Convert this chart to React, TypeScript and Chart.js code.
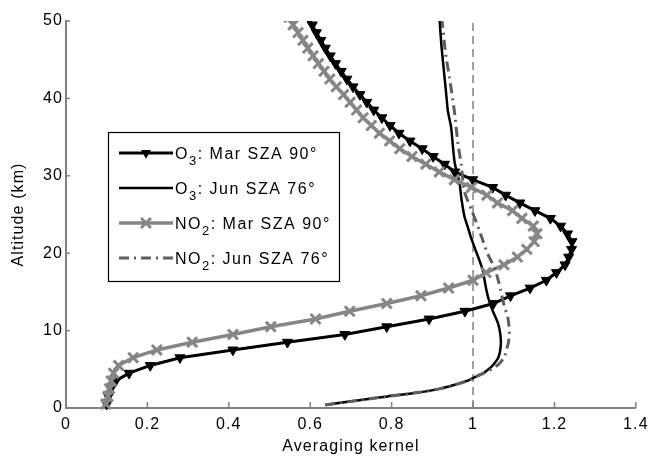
import React, { useEffect, useRef } from 'react';
import { Chart, registerables } from 'chart.js';

Chart.register(...registerables);

// ---- Data (altitude in km, averaging kernel value) ----
const o3MarAlt = [0.5, 1.5, 2.5, 3.5, 4.5, 5.5, 6.5, 7.5, 8.5, 9.5, 10.5, 11.5, 12.5, 13.5, 14.5, 15.5, 16.5, 17.5, 18.5, 19.5, 20.5, 21.5, 22.5, 23.5, 24.5, 25.5, 26.5, 27.5, 28.5, 29.5, 30.5, 31.5, 32.5, 33.5, 34.5, 35.5, 36.5, 37.5, 38.5, 39.5, 40.5, 41.5, 42.5, 43.5, 44.5, 45.5, 46.5, 47.5, 48.5, 49.5, 50.5];
const o3MarVal = [0.100, 0.104, 0.110, 0.122, 0.155, 0.207, 0.280, 0.410, 0.544, 0.685, 0.788, 0.892, 0.980, 1.050, 1.092, 1.140, 1.180, 1.205, 1.226, 1.235, 1.242, 1.243, 1.232, 1.215, 1.190, 1.152, 1.115, 1.080, 1.048, 0.999, 0.955, 0.930, 0.902, 0.875, 0.845, 0.818, 0.796, 0.776, 0.756, 0.739, 0.722, 0.705, 0.690, 0.676, 0.662, 0.649, 0.637, 0.626, 0.615, 0.605, 0.595];

const o3JunAlt = [0.4, 1.0, 1.5, 2.0, 2.5, 3.0, 3.5, 4.0, 4.5, 5.0, 5.5, 6.5, 8.0, 9.5, 11.0, 12.6, 14.3, 16.0, 17.8, 20.0, 22.0, 23.4, 24.7, 27.2, 29.0, 30.7, 32.0, 34.1, 36.3, 38.4, 40.6, 42.7, 44.8, 47.0, 50.0];
const o3JunVal = [0.637, 0.720, 0.790, 0.865, 0.920, 0.955, 0.985, 1.005, 1.025, 1.038, 1.048, 1.062, 1.068, 1.067, 1.061, 1.048, 1.037, 1.030, 1.024, 1.009, 0.995, 0.987, 0.979, 0.971, 0.967, 0.959, 0.954, 0.950, 0.946, 0.938, 0.934, 0.930, 0.926, 0.922, 0.918];

const no2MarAlt = [0.5, 1.5, 2.5, 3.5, 4.5, 5.5, 6.5, 7.5, 8.5, 9.5, 10.5, 11.5, 12.5, 13.5, 14.5, 15.5, 16.5, 17.5, 18.5, 19.5, 20.5, 21.5, 22.5, 23.5, 24.5, 25.5, 26.5, 27.5, 28.5, 29.5, 30.5, 31.5, 32.5, 33.5, 34.5, 35.5, 36.5, 37.5, 38.5, 39.5, 40.5, 41.5, 42.5, 43.5, 44.5, 45.5, 46.5, 47.5, 48.5, 49.5, 50.5];
const no2MarVal = [0.098, 0.103, 0.107, 0.111, 0.117, 0.129, 0.165, 0.223, 0.310, 0.410, 0.503, 0.613, 0.697, 0.788, 0.872, 0.940, 1.000, 1.032, 1.076, 1.109, 1.132, 1.150, 1.157, 1.148, 1.120, 1.097, 1.060, 1.034, 0.996, 0.954, 0.917, 0.884, 0.850, 0.820, 0.795, 0.770, 0.750, 0.730, 0.714, 0.698, 0.682, 0.664, 0.648, 0.634, 0.620, 0.607, 0.594, 0.582, 0.570, 0.558, 0.548];

const no2JunAlt = [0.4, 1.0, 1.5, 2.0, 2.5, 3.0, 3.5, 4.0, 4.5, 5.0, 5.7, 6.6, 7.5, 8.5, 9.6, 10.7, 11.8, 13.1, 14.2, 15.2, 16.5, 18.2, 19.9, 21.5, 23.0, 25.5, 28.1, 31.5, 34.1, 38.4, 42.7, 46.0, 50.0];
const no2JunVal = [0.637, 0.720, 0.790, 0.865, 0.920, 0.955, 0.985, 1.005, 1.027, 1.045, 1.064, 1.077, 1.082, 1.087, 1.089, 1.088, 1.085, 1.077, 1.072, 1.068, 1.062, 1.052, 1.036, 1.025, 1.015, 0.997, 0.978, 0.971, 0.963, 0.954, 0.942, 0.932, 0.924];

const refLineVal = [1, 1];
const refLineAlt = [0, 50];

const seriesLabels = ['O3: Mar SZA 90°', 'O3: Jun SZA 76°', 'NO2: Mar SZA 90°', 'NO2: Jun SZA 76°'];
const legendSpecies = ['O', 'O', 'NO', 'NO'];
const legendSubs = ['3', '3', '2', '2'];
const legendRest = [': Mar SZA 90°', ': Jun SZA 76°', ': Mar SZA 90°', ': Jun SZA 76°'];

const xTickValues = [0, 0.2, 0.4, 0.6, 0.8, 1, 1.2, 1.4];
const xTickLabels = ['0', '0.2', '0.4', '0.6', '0.8', '1', '1.2', '1.4'];
const yTickValues = [0, 10, 20, 30, 40, 50];
const yTickLabels = ['0', '10', '20', '30', '40', '50'];

const xTitle = 'Averaging kernel';
const yTitle = 'Altitude (km)';

const FONT = '"Liberation Sans", Arial, Helvetica, sans-serif';
const GRAY = '#868686';
const DARKGRAY = '#5e5e5e';
const AXIS = '#808080';

const toPoints = (xs: number[], ys: number[]) => xs.map((v, i) => ({ x: v, y: ys[i] }));

const letterSpacingPlugin = {
  id: 'letterSpacing',
  beforeDraw(chart: any) {
    (chart.ctx as any).letterSpacing = '1.1px';
  },
};

const inwardTicks = {
  id: 'inwardTicks',
  afterDatasetsDraw(chart: any) {
    const { ctx, chartArea, scales } = chart;
    ctx.save();
    ctx.strokeStyle = AXIS;
    ctx.lineWidth = 1.5;
    xTickValues.forEach((v) => {
      const px = scales.x.getPixelForValue(v);
      ctx.beginPath();
      ctx.moveTo(px, chartArea.bottom);
      ctx.lineTo(px, chartArea.bottom - 6);
      ctx.stroke();
    });
    yTickValues.forEach((v) => {
      const py = scales.y.getPixelForValue(v);
      ctx.beginPath();
      ctx.moveTo(chartArea.left, py);
      ctx.lineTo(chartArea.left + 4, py);
      ctx.stroke();
    });
    ctx.restore();
  },
};

const legendBox = {
  id: 'legendBox',
  afterDraw(chart: any) {
    const { ctx, chartArea } = chart;
    const left = chartArea.left + 42;
    const top = chartArea.top + 111;
    const w = 231;
    const h = 149;
    ctx.save();
    ctx.fillStyle = '#ffffff';
    ctx.fillRect(left, top, w, h);
    ctx.strokeStyle = '#000000';
    ctx.lineWidth = 1.2;
    ctx.strokeRect(left + 0.5, top + 0.5, w, h);
    const rowStart = 21;
    const rowGap = 35;
    for (let i = 0; i < 4; i++) {
      const ds = chart.data.datasets[i];
      const y = top + rowStart + rowGap * i;
      const x0 = left + 11;
      const x1 = left + 65;
      const xm = (x0 + x1) / 2;
      ctx.save();
      ctx.strokeStyle = ds.borderColor;
      ctx.lineWidth = ds.borderWidth;
      ctx.setLineDash(ds.borderDash || []);
      ctx.beginPath();
      ctx.moveTo(x0, y);
      ctx.lineTo(x1, y);
      ctx.stroke();
      ctx.setLineDash([]);
      if (ds.pointStyle === 'triangle') {
        const r = ds.pointRadius;
        ctx.fillStyle = ds.pointBackgroundColor;
        ctx.beginPath();
        ctx.moveTo(xm, y + r);
        ctx.lineTo(xm - r * 0.866, y - r * 0.5);
        ctx.lineTo(xm + r * 0.866, y - r * 0.5);
        ctx.closePath();
        ctx.fill();
      } else if (ds.pointStyle === 'crossRot') {
        const a = ds.pointRadius * 0.7071;
        ctx.strokeStyle = ds.pointBorderColor;
        ctx.lineWidth = ds.pointBorderWidth;
        ctx.beginPath();
        ctx.moveTo(xm - a, y - a);
        ctx.lineTo(xm + a, y + a);
        ctx.moveTo(xm + a, y - a);
        ctx.lineTo(xm - a, y + a);
        ctx.stroke();
      }
      ctx.restore();

      // text with subscript
      ctx.save();
      (ctx as any).letterSpacing = '1.5px';
      ctx.fillStyle = '#000000';
      ctx.textBaseline = 'alphabetic';
      ctx.textAlign = 'left';
      let tx = left + 67;
      const base = y + 5.5;
      ctx.font = `16px ${FONT}`;
      ctx.fillText(legendSpecies[i], tx, base);
      tx += ctx.measureText(legendSpecies[i]).width;
      ctx.font = `13px ${FONT}`;
      ctx.fillText(legendSubs[i], tx, base + 6);
      tx += ctx.measureText(legendSubs[i]).width;
      ctx.font = `16px ${FONT}`;
      ctx.fillText(legendRest[i], tx, base);
      ctx.restore();
    }
    ctx.restore();
  },
};

export default function App() {
  const canvasRef = useRef<HTMLCanvasElement | null>(null);

  useEffect(() => {
    document.body.style.margin = '0';
    const canvas = canvasRef.current;
    if (!canvas) return;
    Chart.defaults.font.family = FONT;

    const chart = new Chart(canvas, {
      type: 'scatter',
      data: {
        datasets: [
          {
            label: seriesLabels[0],
            data: toPoints(o3MarVal, o3MarAlt),
            showLine: true,
            borderColor: '#000000',
            borderWidth: 3,
            pointStyle: 'triangle',
            pointRotation: 180,
            pointRadius: 5.8,
            pointHoverRadius: 5.8,
            pointBackgroundColor: '#000000',
            pointBorderColor: '#000000',
            pointBorderWidth: 1,
            tension: 0,
            order: 3,
            clip: { left: 8, right: 8, top: 0, bottom: 8 },
          } as any,
          {
            label: seriesLabels[1],
            data: toPoints(o3JunVal, o3JunAlt),
            showLine: true,
            borderColor: '#000000',
            borderWidth: 2.5,
            pointRadius: 0,
            pointHoverRadius: 0,
            tension: 0.2,
            order: 2,
            clip: { left: 8, right: 8, top: 0, bottom: 8 },
          } as any,
          {
            label: seriesLabels[2],
            data: toPoints(no2MarVal, no2MarAlt),
            showLine: true,
            borderColor: GRAY,
            borderWidth: 3.5,
            pointStyle: 'crossRot',
            pointRadius: 7,
            pointHoverRadius: 7,
            pointBackgroundColor: GRAY,
            pointBorderColor: GRAY,
            pointBorderWidth: 3,
            tension: 0,
            order: 1,
            clip: { left: 8, right: 8, top: 0, bottom: 8 },
          } as any,
          {
            label: seriesLabels[3],
            data: toPoints(no2JunVal, no2JunAlt),
            showLine: true,
            borderColor: DARKGRAY,
            borderWidth: 3,
            borderDash: [10, 5, 2, 5],
            pointRadius: 0,
            pointHoverRadius: 0,
            tension: 0.2,
            order: 0,
            clip: { left: 8, right: 8, top: 0, bottom: 8 },
          } as any,
          {
            label: 'reference',
            data: toPoints(refLineVal, refLineAlt),
            showLine: true,
            borderColor: AXIS,
            borderWidth: 1.5,
            borderDash: [8, 5],
            pointRadius: 0,
            pointHoverRadius: 0,
            order: 5,
          } as any,
        ],
      },
      options: {
        responsive: false,
        animation: false,
        devicePixelRatio: 1,
        layout: { padding: { left: 0, right: 13, top: 21, bottom: 0 } },
        plugins: {
          legend: { display: false },
          tooltip: { enabled: false },
        },
        scales: {
          x: {
            type: 'linear',
            min: 0,
            max: 1.4,
            afterBuildTicks: (scale: any) => {
              scale.ticks = xTickValues.map((v) => ({ value: v }));
            },
            afterFit: (scale: any) => {
              scale.height = 50;
            },
            grid: { display: true, drawOnChartArea: false, drawTicks: false },
            border: { display: true, color: AXIS, width: 2 },
            ticks: {
              color: '#000000',
              font: { size: 16 },
              padding: 7,
              maxRotation: 0,
              autoSkip: false,
              callback: (_v: any, i: number) => xTickLabels[i],
            },
            title: {
              display: true,
              text: xTitle,
              color: '#000000',
              font: { size: 16 },
              padding: { top: 0, bottom: 2 },
            },
          },
          y: {
            type: 'linear',
            min: 0,
            max: 50,
            afterBuildTicks: (scale: any) => {
              scale.ticks = yTickValues.map((v) => ({ value: v }));
            },
            afterFit: (scale: any) => {
              scale.width = 66;
            },
            grid: { display: true, drawOnChartArea: false, drawTicks: false },
            border: { display: true, color: AXIS, width: 2 },
            ticks: {
              color: '#000000',
              font: { size: 16 },
              padding: 3,
              autoSkip: false,
              callback: (_v: any, i: number) => yTickLabels[i],
            },
            title: {
              display: true,
              text: yTitle,
              color: '#000000',
              font: { size: 16 },
              padding: { top: 9, bottom: 0 },
            },
          },
        },
      } as any,
      plugins: [letterSpacingPlugin, inwardTicks, legendBox],
    });

    return () => {
      chart.destroy();
    };
  }, []);

  return (
    <div style={{ width: 654, height: 458 }}>
      <canvas ref={canvasRef} width={654} height={458} style={{ display: 'block', width: 654, height: 458 }} />
    </div>
  );
}
